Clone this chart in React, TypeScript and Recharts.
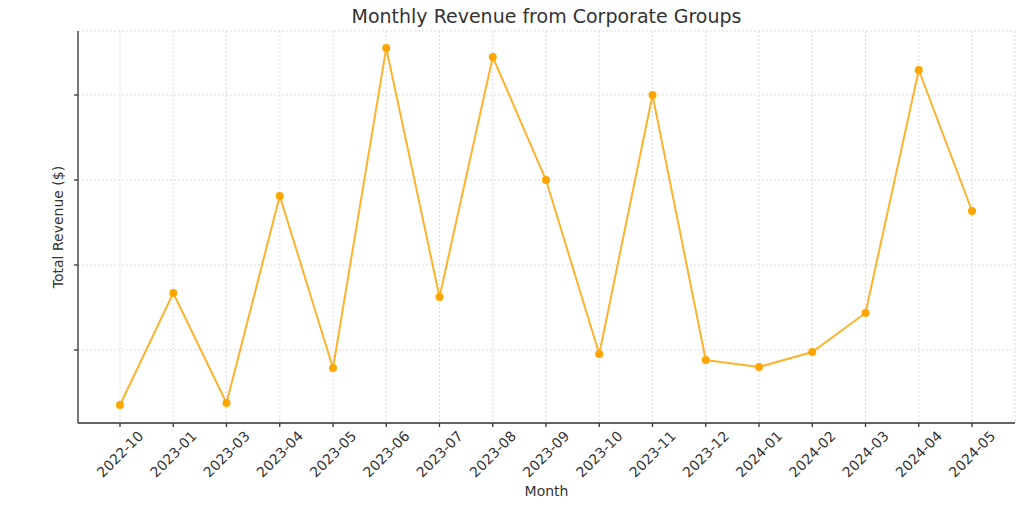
import React from 'react';
import { LineChart, Line, XAxis, YAxis, CartesianGrid, Label } from 'recharts';

const months = [
  '2022-10', '2023-01', '2023-03', '2023-04', '2023-05', '2023-06', '2023-07', '2023-08', '2023-09',
  '2023-10', '2023-11', '2023-12', '2024-01', '2024-02', '2024-03', '2024-04', '2024-05',
];
const revenue = [
  353, 1671, 376, 2812, 788, 4553, 1624, 4447, 3000, 953, 4000, 882, 800, 976, 1435, 4294, 2635,
];
const yTicks = [1000, 2000, 3000, 4000];

const FONT = '"DejaVu Sans", sans-serif';

// rotated month label, centred under its tick like the original
const MonthTick = ({ x, payload }: any) => (
  <text
    x={x}
    y={454}
    transform={`rotate(-45, ${x}, 454)`}
    textAnchor="middle"
    dominantBaseline="central"
    fontSize={14}
    fontFamily={FONT}
    fill="#333"
  >
    {payload.value}
  </text>
);

export default function App() {
  const data = months.map((m, i) => ({ month: m, revenue: revenue[i] }));

  return (
    <div style={{ position: 'absolute', left: 0, top: 0, width: 1024, height: 508, background: '#fff' }}>
      <div
        style={{
          position: 'absolute',
          left: 0,
          width: 1093,
          top: 5,
          textAlign: 'center',
          fontFamily: FONT,
          fontSize: 19,
          color: '#333',
        }}
      >
        Monthly Revenue from Corporate Groups
      </div>
      <LineChart width={1024} height={508} data={data} margin={{ top: 31, right: 9, left: 0, bottom: 0 }}>
        <CartesianGrid stroke="#dcdcdc" strokeDasharray="2 2" />
        <XAxis
          dataKey="month"
          height={85}
          padding={{ left: 42, right: 43 }}
          stroke="#333"
          strokeWidth={1.3}
          tickSize={4}
          tickLine={{ stroke: '#333' }}
          tick={<MonthTick />}
          interval={0}
        >
          <Label value="Month" position="insideBottom" offset={12} fontSize={14} fontFamily={FONT} fill="#333" />
        </XAxis>
        <YAxis
          width={78}
          domain={[141, 4753]}
          ticks={yTicks}
          allowDataOverflow
          stroke="#333"
          strokeWidth={1.3}
          tickSize={4}
          tickFormatter={() => ''}
          axisLine={{ stroke: '#333' }}
        >
          <Label
            value="Total Revenue ($)"
            angle={-90}
            position="insideLeft"
            offset={58}
            style={{ textAnchor: 'middle' }}
            fontSize={14}
            fontFamily={FONT}
            fill="#333"
          />
        </YAxis>
        <Line
          type="linear"
          dataKey="revenue"
          stroke="#FDB22E"
          strokeWidth={2}
          dot={{ r: 4, fill: '#FFA500', stroke: '#FFA500', strokeWidth: 0 }}
          isAnimationActive={false}
        />
      </LineChart>
    </div>
  );
}
